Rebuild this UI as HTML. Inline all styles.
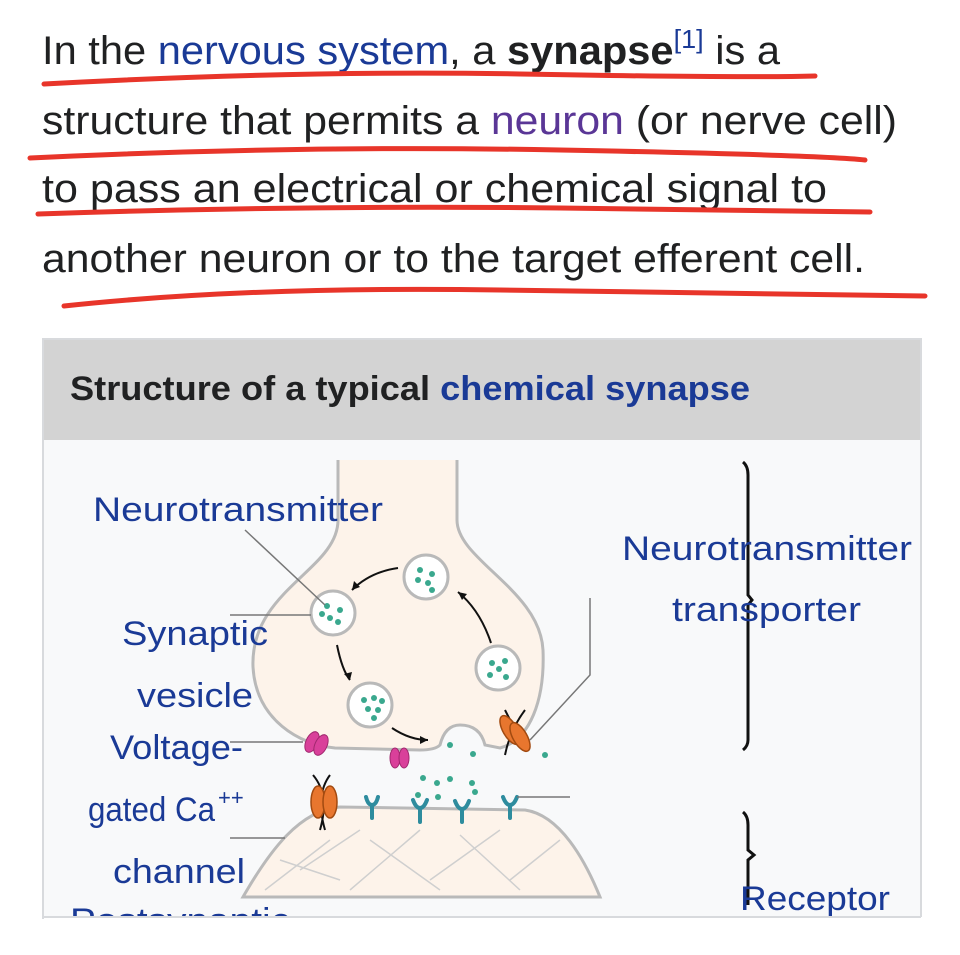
<!DOCTYPE html>
<html><head><meta charset="utf-8"><style>
html,body{margin:0;padding:0;background:#fff;width:960px;height:955px;overflow:hidden;font-family:"Liberation Sans",sans-serif;}
</style></head><body>
<svg style="position:absolute;left:0;top:0" width="960" height="955" font-family="Liberation Sans, sans-serif">
<g font-size="40" fill="#202122">
<text x="42" y="64" textLength="738" lengthAdjust="spacingAndGlyphs">In the <tspan fill="#1a3a96">nervous system</tspan>, a <tspan font-weight="bold">synapse</tspan><tspan fill="#1a3a96" font-size="26" dy="-16">[1]</tspan><tspan dy="16"> is a</tspan></text>
<text x="42" y="134" textLength="855" lengthAdjust="spacingAndGlyphs">structure that permits a <tspan fill="#5a3696">neuron</tspan> (or nerve cell)</text>
<text x="42" y="202" textLength="785" lengthAdjust="spacingAndGlyphs">to pass an electrical or chemical signal to</text>
<text x="42" y="272" textLength="823" lengthAdjust="spacingAndGlyphs">another neuron or to the target efferent cell.</text>
</g>
<g fill="none" stroke="#e8352a" stroke-width="5" stroke-linecap="round">
<path d="M44 84 Q300 70 520 74 T815 76"/>
<path d="M30 158 Q300 145 560 150 T865 160"/>
<path d="M38 214 Q300 205 560 208 T870 212"/>
<path d="M64 306 Q250 286 500 290 T925 296"/>
</g>
<rect x="43" y="339" width="878" height="579" fill="#f8f9fa" stroke="#d8dadd" stroke-width="2"/>
<rect x="44" y="340" width="876" height="100" fill="#d3d3d3"/>
<text x="70" y="400" font-size="34" font-weight="bold" fill="#202122" textLength="680" lengthAdjust="spacingAndGlyphs">Structure of a typical <tspan fill="#1a3a96">chemical synapse</tspan></text>
<!-- postsynaptic -->
<path d="M243 897 C270 850 300 810 340 807 L525 810 C560 815 585 860 600 897 Z" fill="#fdf3ea" stroke="#b9b9b9" stroke-width="3"/>
<g stroke="#cfcfcf" stroke-width="1.5" fill="none">
<path d="M265 890 L330 840 M280 860 L340 880 M350 890 L420 830 M370 840 L440 890 M430 880 L500 830 M460 835 L520 890 M510 880 L560 840 M300 870 L360 830"/>
</g>
<!-- presynaptic -->
<path d="M338 460 L338 520 C338 570 250 590 253 667 C256 720 300 745 335 748 L420 750 Q435 750 440 745 Q445 725 460 725 Q480 725 485 745 L500 748 C530 740 545 700 543 650 C540 590 457 560 457 520 L457 460" fill="#fdf3ea" stroke="#b9b9b9" stroke-width="3"/>
<g fill="#fff" stroke="#b9b9b9" stroke-width="3">
<circle cx="333" cy="613" r="22"/><circle cx="426" cy="577" r="22"/><circle cx="498" cy="668" r="22"/><circle cx="370" cy="705" r="22"/>
</g>
<g fill="#3aa88e">
<circle cx="327" cy="606" r="3"/><circle cx="340" cy="610" r="3"/><circle cx="330" cy="618" r="3"/><circle cx="338" cy="622" r="3"/><circle cx="322" cy="614" r="3"/>
<circle cx="420" cy="570" r="3"/><circle cx="432" cy="574" r="3"/><circle cx="428" cy="583" r="3"/><circle cx="418" cy="580" r="3"/><circle cx="432" cy="590" r="3"/>
<circle cx="492" cy="663" r="3"/><circle cx="505" cy="661" r="3"/><circle cx="499" cy="669" r="3"/><circle cx="490" cy="675" r="3"/><circle cx="506" cy="677" r="3"/>
<circle cx="364" cy="700" r="3"/><circle cx="374" cy="698" r="3"/><circle cx="382" cy="701" r="3"/><circle cx="368" cy="709" r="3"/><circle cx="378" cy="710" r="3"/><circle cx="374" cy="718" r="3"/>
<circle cx="450" cy="745" r="3"/><circle cx="473" cy="754" r="3"/><circle cx="423" cy="778" r="3"/><circle cx="437" cy="783" r="3"/><circle cx="450" cy="779" r="3"/><circle cx="472" cy="783" r="3"/><circle cx="475" cy="792" r="3"/><circle cx="418" cy="795" r="3"/><circle cx="438" cy="797" r="3"/><circle cx="545" cy="755" r="3"/>
</g>
<g fill="none" stroke="#111" stroke-width="2">
<path d="M398 568 Q370 572 352 590"/><path d="M337 645 Q342 670 350 680"/><path d="M392 728 Q410 740 428 740"/><path d="M491 643 Q480 610 458 592"/>
<path d="M505 710 Q515 730 525 745"/><path d="M525 710 Q510 730 505 755"/>
<path d="M313 775 Q330 795 320 830"/><path d="M330 775 Q315 795 325 830"/>
</g>
<g fill="#111"><path d="M352 590 l2 -9 l6 6z"/><path d="M350 680 l-6 -6 l8 -2z"/><path d="M428 740 l-8 -4 l0 8z"/><path d="M458 592 l9 2 l-5 6z"/></g>
<g fill="#e8762e" stroke="#a24a10" stroke-width="1.5">
<ellipse cx="510" cy="730" rx="7" ry="16" transform="rotate(-30 510 730)"/><ellipse cx="520" cy="737" rx="7" ry="16" transform="rotate(-30 520 737)"/>
<ellipse cx="318" cy="802" rx="7" ry="16"/><ellipse cx="330" cy="802" rx="7" ry="16"/>
</g>
<g fill="#d9409a" stroke="#a0286e" stroke-width="1">
<ellipse cx="312" cy="742" rx="6" ry="11" transform="rotate(25 312 742)"/><ellipse cx="321" cy="745" rx="6" ry="11" transform="rotate(25 321 745)"/>
<ellipse cx="395" cy="758" rx="5" ry="10"/><ellipse cx="404" cy="758" rx="5" ry="10"/>
</g>
<g stroke="#2e8c9e" stroke-width="4" fill="none" stroke-linecap="round">
<path d="M366 797 Q368 805 372 805 Q376 805 378 797 M372 805 L372 818"/>
<path d="M413 800 Q416 808 420 808 Q424 808 427 800 M420 808 L420 822"/>
<path d="M455 801 Q458 809 462 809 Q466 809 469 801 M462 809 L462 822"/>
<path d="M503 797 Q506 805 510 805 Q514 805 517 797 M510 805 L510 818"/>
</g>
<g stroke="#777" stroke-width="1.5" fill="none">
<path d="M245 530 L325 605"/><path d="M230 615 L311 615"/><path d="M230 742 L303 742"/><path d="M230 838 L285 838"/>
<path d="M530 740 L590 675 L590 598"/><path d="M517 797 L570 797"/>
</g>
<g stroke="#111" stroke-width="3" fill="none">
<path d="M743 462 Q748 466 748 475 L748 595 L752 600 L748 605 L748 740 Q748 746 743 750"/>
<path d="M743 812 Q748 816 748 825 L748 850 L754 855 L748 860 L748 905"/>
</g>
<g font-size="34" fill="#1a3a96" lengthAdjust="spacingAndGlyphs">
<text x="93" y="521" textLength="290" lengthAdjust="spacingAndGlyphs">Neurotransmitter</text>
<text x="122" y="645" textLength="146" lengthAdjust="spacingAndGlyphs">Synaptic</text>
<text x="137" y="707" textLength="116" lengthAdjust="spacingAndGlyphs">vesicle</text>
<text x="110" y="759" textLength="133" lengthAdjust="spacingAndGlyphs">Voltage-</text>
<text x="88" y="821" textLength="127" lengthAdjust="spacingAndGlyphs">gated Ca</text>
<text x="218" y="805" font-size="22">++</text>
<text x="113" y="883" textLength="132" lengthAdjust="spacingAndGlyphs">channel</text>
<text x="70" y="932" textLength="220" lengthAdjust="spacingAndGlyphs">Postsynaptic</text>
<text x="622" y="560" textLength="290" lengthAdjust="spacingAndGlyphs">Neurotransmitter</text>
<text x="672" y="621" textLength="189" lengthAdjust="spacingAndGlyphs">transporter</text>
<text x="740" y="910" textLength="150" lengthAdjust="spacingAndGlyphs">Receptor</text>
</g>
<rect x="44" y="917" width="880" height="40" fill="#fff"/>
<line x1="43" y1="917" x2="921" y2="917" stroke="#d8dadd" stroke-width="2"/>
</svg>
</body></html>
